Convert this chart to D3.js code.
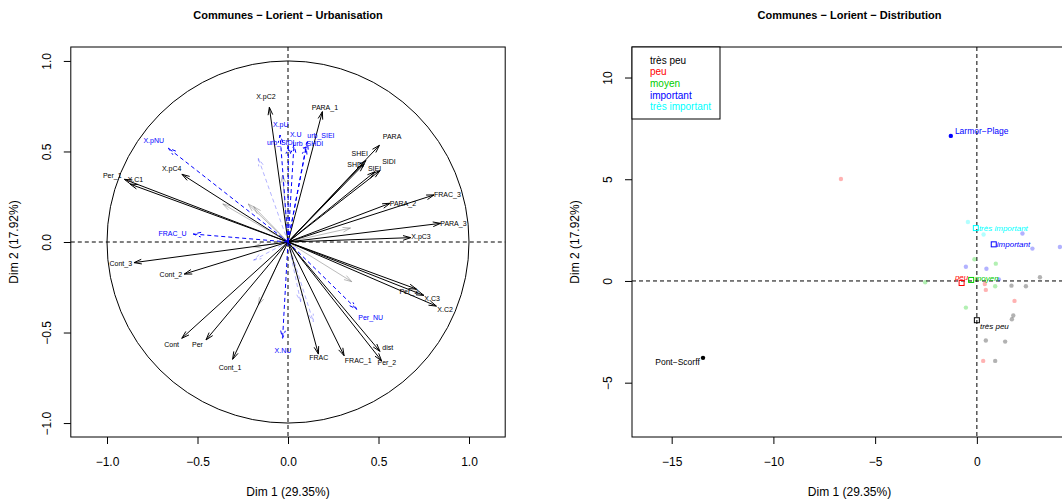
<!DOCTYPE html>
<html>
<head>
<meta charset="utf-8">
<script src="https://cdn.jsdelivr.net/npm/d3@7"></script>
<style>
  body { margin: 0; background: #fff; }
  svg { display: block; font-family: "Liberation Sans", Arial, Helvetica, sans-serif; }
</style>
</head>
<body>
<svg id="chart" width="1062" height="504"></svg>
<script>
// ---------- Variables factor map (correlation circle) ----------
const actNames = ["X.pC2","PARA_1","PARA","SHEI","SHDI","SIDI","SIEI","PARA_2","FRAC_3","PARA_3","X.pC3",
  "Per_3","X.C3","X.C2","dist","Per_2","FRAC_1","FRAC","Cont_1","Per","Cont","Cont_2","Cont_3","X.C1","Per_1","X.pC4"];
const actX = [-0.103,0.19,0.505,0.43,0.42,0.508,0.48,0.564,0.807,0.843,0.678,
  0.71,0.751,0.82,0.508,0.517,0.31,0.168,-0.306,-0.453,-0.587,-0.573,-0.851,-0.873,-0.904,-0.586];
const actY = [0.744,0.72,0.534,0.45,0.43,0.394,0.388,0.214,0.26,0.103,0.024,
  -0.26,-0.295,-0.354,-0.604,-0.656,-0.628,-0.619,-0.648,-0.541,-0.532,-0.177,-0.114,0.32,0.346,0.374];
const actLabX = [-0.122,0.204,0.575,0.396,0.374,0.558,0.478,0.635,0.881,0.914,0.735,
  0.667,0.796,0.868,0.551,0.546,0.388,0.17,-0.32,-0.5,-0.643,-0.647,-0.924,-0.843,-0.971,-0.643];
const actLabY = [0.801,0.742,0.58,0.486,0.427,0.442,0.405,0.214,0.261,0.103,0.029,
  -0.271,-0.311,-0.372,-0.584,-0.665,-0.652,-0.637,-0.692,-0.569,-0.564,-0.181,-0.118,0.343,0.365,0.405];

// supplementary quantitative variables
const supNames = ["X.pNU","FRAC_U","X.pU","urb_SIDI","X.U","urb_SHDI","urb_SIEI","X.NU","Per_NU"];
const supX = [-0.661,-0.523,-0.044,0.002,0.033,0.1,0.107,-0.03,0.38];
const supY = [0.518,0.044,0.591,0.53,0.536,0.527,0.554,-0.532,-0.372];
const supLabX = [-0.742,-0.638,-0.04,-0.04,0.043,0.11,0.182,-0.028,0.457];
const supLabY = [0.56,0.048,0.646,0.549,0.591,0.545,0.586,-0.597,-0.418];

// poorly represented variables (drawn faded, unlabelled)
const weakActX = [-0.36,-0.22,-0.19,0.345,0.352,-0.03,-0.164,-0.19];
const weakActY = [0.21,0.21,0.195,0.077,-0.219,0.37,-0.348,-0.026];
const weakSupX = [-0.164,-0.19,0.14,0.07];
const weakSupY = [0.462,-0.1,-0.44,-0.33];

const leftTicks = [-1.0,-0.5,0.0,0.5,1.0];

// ---------- Individuals factor map ----------
const groups = ["très peu","peu","moyen","important","très important"];
const groupColors = ["#000000","#FF0000","#00CD00","#0000FF","#00FFFF"];
const indX = [-1.28,-13.46,-6.68,-0.44,0.33,2.24,2.73,-0.12,0.93,-0.54,0.47,3.1,-2.54,1.08,0.39,0.44,0.9,1.7,2.41,1.85,-0.54,1.79,1.72,0.44,1.39,0.31,0.9,4.08];
const indY = [7.13,-3.78,5.01,2.9,2.28,2.33,1.59,1.07,0.85,0.70,0.6,0.18,-0.06,0.08,-0.15,-0.44,-0.26,-0.23,-0.26,-0.98,-1.31,-1.7,-1.88,-2.93,-2.98,-3.93,-3.93,1.67];
const indGroup = [3,0,1,4,4,3,3,2,2,3,3,0,2,3,1,1,2,0,0,1,2,0,0,0,0,1,0,3];
const indLabel = ["Larmor−Plage","Pont−Scorff","","","","","","","","","","","","","","","","","","","","","","","","","",""];
const indLabX = [-1.08,-13.62];
const indLabY = [7.37,-4.0];

// category barycentres
const catX = [0.0,-0.75,-0.28,0.83,-0.05];
const catY = [-1.93,-0.1,0.05,1.8,2.6];
const catLabX = [0.15,-1.08,-0.11,0.98,0.1];
const catLabY = [-2.21,0.2,0.15,1.82,2.6];

const rightXTicks = [-15,-10,-5,0];
const rightYTicks = [-5,0,5,10];

// ---------------------------------------------------------------
const svg = d3.select("#chart");
const boxTop = 47, boxBottom = 437;

const xL = d3.scaleLinear().domain([-1.2, 1.2]).range([70.8, 505.2]);
const yL = d3.scaleLinear().domain([-1.077, 1.077]).range([boxBottom, boxTop]);
const xR = d3.scaleLinear().domain([-16.95, 4.43]).range([632, 1067]);
const yR = d3.scaleLinear().domain([-7.67, 11.5]).range([boxBottom, boxTop]);

function frame(g, x, y, xticks, yticks, fmt, title) {
  const [x0, x1] = x.range();
  const ax = g.append("g").attr("transform", `translate(0,${boxBottom})`)
    .call(d3.axisBottom(x).tickValues(xticks).tickSize(7).tickPadding(5).tickFormat(fmt));
  const ay = g.append("g").attr("transform", `translate(${x0},0)`)
    .call(d3.axisLeft(y).tickValues(yticks).tickSize(7).tickPadding(5).tickFormat(fmt));
  [ax, ay].forEach(a => {
    a.select(".domain").remove();
    a.selectAll("line").attr("stroke", "#000");
    a.selectAll("text").attr("font-size", 12).attr("fill", "#000")
      .attr("font-family", "Liberation Sans, Arial, sans-serif");
  });
  ax.selectAll("text").attr("dy", "17px");
  // vertical tick labels reading upwards, as in base graphics
  ay.selectAll("text")
    .attr("transform", "rotate(-90)")
    .attr("x", 0).attr("y", -20).attr("dy", 0)
    .attr("text-anchor", "middle");
  g.append("rect").attr("x", x0).attr("y", boxTop).attr("width", x1 - x0).attr("height", boxBottom - boxTop)
    .attr("fill", "none").attr("stroke", "#000").attr("stroke-width", 1);
  g.append("text").attr("x", (x0 + x1) / 2).attr("y", 19).attr("text-anchor", "middle")
    .attr("font-size", 11).attr("font-weight", "bold").text(title);
  g.append("text").attr("x", (x0 + x1) / 2).attr("y", 496).attr("text-anchor", "middle")
    .attr("font-size", 12).text("Dim 1 (29.35%)");
  const cy = (boxTop + boxBottom) / 2;
  g.append("text").attr("transform", `translate(${x0 - 53},${cy}) rotate(-90)`)
    .attr("text-anchor", "middle").attr("font-size", 12).text("Dim 2 (17.92%)");
  // dashed zero lines
  g.append("line").attr("x1", x0).attr("x2", x1).attr("y1", y(0)).attr("y2", y(0))
    .attr("stroke", "#000").attr("stroke-dasharray", "4,3");
  g.append("line").attr("x1", x(0)).attr("x2", x(0)).attr("y1", boxTop).attr("y2", boxBottom)
    .attr("stroke", "#000").attr("stroke-dasharray", "4,3");
}

const fmtL = d => d === 0 ? "0.0" : d3.format(".1f")(d).replace("-", "−");
const fmtR = d => String(d).replace("-", "−");

// ---------- left panel ----------
const gL = svg.append("g");
const clipL = svg.append("defs").append("clipPath").attr("id", "clipL");
clipL.append("rect").attr("x", 70.8).attr("y", boxTop).attr("width", 434.4).attr("height", boxBottom - boxTop);
frame(gL, xL, yL, leftTicks, leftTicks, fmtL, "Communes − Lorient − Urbanisation");

const plotL = gL.append("g").attr("clip-path", "url(#clipL)");
// unit circle
plotL.append("ellipse").attr("cx", xL(0)).attr("cy", yL(0))
  .attr("rx", xL(1) - xL(0)).attr("ry", yL(0) - yL(1))
  .attr("fill", "none").attr("stroke", "#000").attr("stroke-width", 1);

function arrow(g, x1, y1, color, opts) {
  const sx = xL(0), sy = yL(0), ex = xL(x1), ey = yL(y1);
  const a = Math.atan2(ey - sy, ex - sx);
  const L = 8, th = 17 * Math.PI / 180;
  const p = d3.path();
  p.moveTo(sx, sy); p.lineTo(ex, ey);
  p.moveTo(ex - L * Math.cos(a - th), ey - L * Math.sin(a - th)); p.lineTo(ex, ey);
  p.lineTo(ex - L * Math.cos(a + th), ey - L * Math.sin(a + th));
  g.append("path").attr("d", p.toString()).attr("fill", "none").attr("stroke", color)
    .attr("stroke-width", opts.w || 1).attr("stroke-dasharray", opts.dash || null)
    .attr("opacity", opts.op || 1);
}

weakActX.forEach((v, i) => arrow(plotL, v, weakActY[i], "#8c8c8c", {op: 0.6}));
weakSupX.forEach((v, i) => arrow(plotL, v, weakSupY[i], "#0000FF", {dash: "4,3", op: 0.3}));
actX.forEach((v, i) => arrow(plotL, v, actY[i], "#000", {}));
supX.forEach((v, i) => arrow(plotL, v, supY[i], "#0000FF", {dash: "4,3"}));

plotL.selectAll("text.act").data(actNames).join("text").attr("class", "act")
  .attr("x", (d, i) => xL(actLabX[i])).attr("y", (d, i) => yL(actLabY[i]))
  .attr("text-anchor", "middle").attr("dy", "0.35em").attr("font-size", 7).attr("fill", "#000").text(d => d);
plotL.selectAll("text.sup").data(supNames).join("text").attr("class", "sup")
  .attr("x", (d, i) => xL(supLabX[i])).attr("y", (d, i) => yL(supLabY[i]))
  .attr("text-anchor", "middle").attr("dy", "0.35em").attr("font-size", 7).attr("fill", "#0000FF").text(d => d);

// ---------- right panel ----------
const gR = svg.append("g");
frame(gR, xR, yR, rightXTicks, rightYTicks, fmtR, "Communes − Lorient − Distribution");
const plotR = gR.append("g");

const faded = c => { const k = d3.color(c); k.opacity = 0.3; return k.toString(); };
plotR.selectAll("circle.ind").data(indX).join("circle").attr("class", "ind")
  .attr("cx", (d, i) => xR(d)).attr("cy", (d, i) => yR(indY[i])).attr("r", 2.2)
  .attr("fill", (d, i) => indLabel[i] ? groupColors[indGroup[i]] : faded(groupColors[indGroup[i]]));
indLabel.forEach((t, i) => {
  if (!t) return;
  plotR.append("text").attr("x", xR(indLabX[i])).attr("y", yR(indLabY[i]))
    .attr("text-anchor", indLabX[i] < indX[i] ? "end" : "start").attr("dy", "0.35em")
    .attr("font-size", 8.5).attr("fill", groupColors[indGroup[i]]).text(t);
});

plotR.selectAll("rect.cat").data(catX).join("rect").attr("class", "cat")
  .attr("x", d => xR(d) - 2.5).attr("y", (d, i) => yR(catY[i]) - 2.5).attr("width", 5).attr("height", 5)
  .attr("fill", "none").attr("stroke", (d, i) => groupColors[i]).attr("stroke-width", 1);
plotR.selectAll("text.cat").data(groups).join("text").attr("class", "cat")
  .attr("x", (d, i) => xR(catLabX[i])).attr("y", (d, i) => yR(catLabY[i])).attr("dy", "0.35em")
  .attr("font-size", 8).attr("font-style", "italic").attr("fill", (d, i) => groupColors[i]).text(d => d);

// legend
const lg = gR.append("g");
lg.append("rect").attr("x", 632).attr("y", boxTop).attr("width", 88).attr("height", 72)
  .attr("fill", "#fff").attr("stroke", "#000");
lg.selectAll("text").data(groups).join("text")
  .attr("x", 650).attr("y", (d, i) => 60 + i * 11.7).attr("dy", "0.35em")
  .attr("font-size", 10).attr("fill", (d, i) => groupColors[i]).text(d => d);
</script>
</body>
</html>
